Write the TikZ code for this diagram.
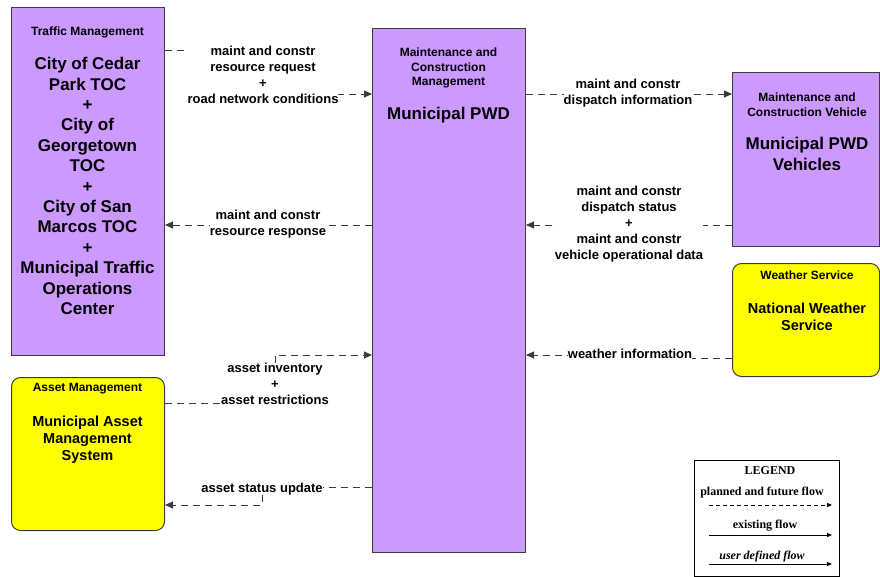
\documentclass[tikz,border=0pt]{standalone}
\usepackage{fontspec}
\setmainfont{Liberation Sans}
\newfontfamily\legendfont{Liberation Serif}
\usetikzlibrary{arrows.meta,backgrounds}
\definecolor{boxPurple}{RGB}{204,153,255}
\definecolor{boxYellow}{RGB}{255,255,0}
\definecolor{lineGray}{RGB}{60,60,60}

\begin{document}
\begin{tikzpicture}[x=1pt,y=-1pt,
    entity/.style={draw=lineGray, line width=1pt, fill=boxPurple, inner sep=0pt, anchor=north west},
    outside/.style={entity, fill=boxYellow, rounded corners=9pt},
    hdr/.style={font=\bfseries\fontsize{12}{14.8}\selectfont, align=center, inner sep=0pt},
    big/.style={font=\bfseries\fontsize{17}{20.4}\selectfont, align=center, inner sep=0pt},
    mid/.style={font=\bfseries\fontsize{14.5}{17}\selectfont, align=center, inner sep=0pt},
    flowlabel/.style={font=\bfseries\fontsize{13}{16}\selectfont, align=center, fill=white, inner sep=0pt},
    flow/.style={draw=lineGray, line width=0.9pt, dash pattern=on 7pt off 5pt, -{Triangle[length=8pt,width=7pt]}},
    legtext/.style={font=\legendfont\bfseries\fontsize{12}{13}\selectfont, inner sep=0pt},
    legflow/.style={draw=black, line width=0.9pt, -{Triangle[length=5pt,width=4pt]}}
  ]
  \useasboundingbox (0,0) rectangle (880,577);

  % terminators
  \node[entity, minimum width=153, minimum height=348] (tm) at (11,7) {};
  \node[hdr] (tmhdr) at (87.5,32) {Traffic Management};
  \node[big] (tmname) at (87.5,186) {City of Cedar\\Park TOC\\+\\City of\\Georgetown\\TOC\\+\\City of San\\Marcos TOC\\+\\Municipal Traffic\\Operations\\Center};

  \node[entity, minimum width=153, minimum height=524] (pwd) at (372,28) {};
  \node[hdr] (pwdhdr) at (448.5,68) {Maintenance and\\Construction\\Management};
  \node[big] (pwdname) at (448.5,115) {Municipal PWD};

  \node[entity, minimum width=147, minimum height=174] (veh) at (732,72) {};
  \node[hdr] (vehhdr) at (807,105) {Maintenance and\\Construction Vehicle};
  \node[big] (vehname) at (807,154) {Municipal PWD\\Vehicles};

  \node[outside, minimum width=147, minimum height=113] (ws) at (732,263) {};
  \node[hdr] (wshdr) at (807,275) {Weather Service};
  \node[mid] (wsname) at (807,317) {National Weather\\Service};

  \node[outside, minimum width=153, minimum height=153] (am) at (11,377) {};
  \node[hdr] (amhdr) at (87.5,389) {Asset Management};
  \node[mid] (amname) at (87.5,440) {Municipal Asset\\Management\\System};

  % flow labels
  \node[flowlabel] (l1) at (263,75) {maint and constr\\resource request\\+\\road network conditions};
  \node[flowlabel] (l2) at (268,224) {maint and constr\\resource response};
  \node[flowlabel] (l3) at (628,93) {maint and constr\\dispatch information};
  \node[flowlabel] (l4) at (629,224) {maint and constr\\dispatch status\\+\\maint and constr\\vehicle operational data};
  \node[flowlabel] (l5) at (630,354) {weather information};
  \node[flowlabel] (l6) at (275,384) {asset inventory\\+\\asset restrictions};
  \node[flowlabel] (l7) at (262,489) {asset status update};

  % flows
  \begin{scope}[on background layer]
    \draw[flow] (tm.east |- 0,50) -| (l1) |- (pwd.west |- 0,94);
    \draw[flow] (pwd.west |- 0,225) -- (tm.east |- 0,225);
    \draw[flow] (pwd.east |- 0,94) -- (veh.west |- 0,94);
    \draw[flow] (veh.west |- 0,225) -- (pwd.east |- 0,225);
    \draw[flow] (ws.west |- 0,358) -| (l5) |- (pwd.east |- 0,355);
    \draw[flow] (am.east |- 0,403) -| (l6) |- (pwd.west |- 0,355);
    \draw[flow] (pwd.west |- 0,487) -| (l7) |- (am.east |- 0,505);
  \end{scope}

  % legend
  \node[draw=black, line width=1pt, inner sep=0pt, anchor=north west, minimum width=145, minimum height=116] (legend) at (694,460) {};
  \node[legtext] (legtitle) at (770,471) {LEGEND};
  \node[legtext] (legplanned) at (762,493) {planned and future flow};
  \node[legtext] (legexisting) at (765,526) {existing flow};
  \node[legtext, font=\legendfont\bfseries\itshape\fontsize{12}{13}\selectfont] (leguser) at (762,557) {user defined flow};
  \coordinate (pa) at (709,505);
  \coordinate (pb) at (832,505);
  \coordinate (ea) at (709,535);
  \coordinate (eb) at (832,535);
  \coordinate (ua) at (709,564);
  \coordinate (ub) at (832,564);
  \draw[legflow, dash pattern=on 4pt off 3pt] (pa) -- (pb);
  \draw[legflow] (ea) -- (eb);
  \draw[legflow] (ua) -- (ub);
\end{tikzpicture}
\end{document}
